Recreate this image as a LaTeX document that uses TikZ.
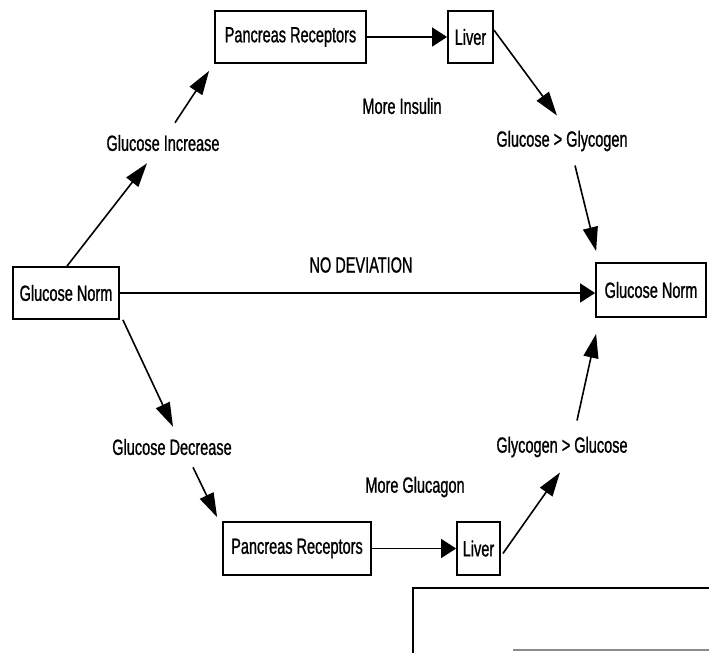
\documentclass[tikz,border=0pt]{standalone}
\usepackage{fontspec}
\setmainfont{Liberation Sans}[FakeStretch=0.66,FakeBold=1]
\usetikzlibrary{arrows.meta,calc}
\begin{document}
\begin{tikzpicture}[x=1pt,y=-1pt,
  every node/.style={font=\fontsize{22}{24}\selectfont, inner sep=0pt},
  box/.style={draw, line width=1.8pt, minimum height=52pt},
  lbl/.style={},
  arrH/.style={line width=1.6pt, -{Triangle[length=15pt,width=19pt]}},
  arrD/.style={line width=1.6pt, -{Triangle[length=24pt,width=15pt]}}]
\useasboundingbox (0,0) rectangle (709,653);
% boxes
\node[box, minimum width=151pt] (pT) at (290.5,37) {Pancreas Receptors};
\node[box, minimum width=45pt]  (lT) at (470.5,37) {Liver};
\node[box, minimum width=106pt] (nL) at (66,293) {Glucose Norm};
\node[box, minimum width=110pt, minimum height=54pt] (nR) at (651,290) {Glucose Norm};
\node[box, minimum width=148pt, minimum height=53pt] (pB) at (297,548.5) {Pancreas Receptors};
\node[box, minimum width=43pt, minimum height=53pt]  (lB) at (478.5,548.5) {Liver};
% labels
\node[lbl] (inc) at (163,143) {Glucose Increase};
\node[lbl] (gg)  at (562,141) {Glucose > Glycogen};
\node[lbl] (mi)  at (402,106) {More Insulin};
\node[lbl] (nd)  at (361,265) {NO DEVIATION};
\node[lbl] (dec) at (172,447) {Glucose Decrease};
\node[lbl] (gl)  at (562,447) {Glycogen > Glucose};
\node[lbl] (mg)  at (415,487) {More Glucagon};
% connectors
\draw[arrD] ($(nL.north)+(1,0)$) -- ($(inc.south)+(-16,12)$);
\draw[arrD] ($(inc.north)+(12,-12)$) -- ($(pT.south west)+(-5,7)$);
\draw[arrH] (pT.east) -- (lT.west);
\draw[arrD] ($(lT.east)+(0,-7)$) -- ($(gg.north)+(-5,-15)$);
\draw[arrD] ($(gg.south)+(13,14)$) -- ($(nR.north west)+(1,-11)$);
\draw[arrH] (nL.east) -- (nL.east -| nR.west);
\draw[arrD] ($(nL.south east)+(3,0)$) -- ($(dec.north)+(1,-12)$);
\draw[arrD] ($(dec.south)+(21,12)$) -- ($(pB.north west)+(-5,-4)$);
\draw[arrH] (pB.east) -- (lB.west);
\draw[arrD] ($(lB.east)+(2,5)$) -- ($(gl.south)+(-2,15)$);
\draw[arrD] ($(gl.north)+(15,-16)$) -- ($(nR.south west)+(1,16)$);
% partial frame at bottom right
\draw[line width=1.8pt] (709,588) -- (413,588) -- (413,653);
\draw[line width=1.2pt, black!45] (513,650) -- (709,650);
\end{tikzpicture}
\end{document}
